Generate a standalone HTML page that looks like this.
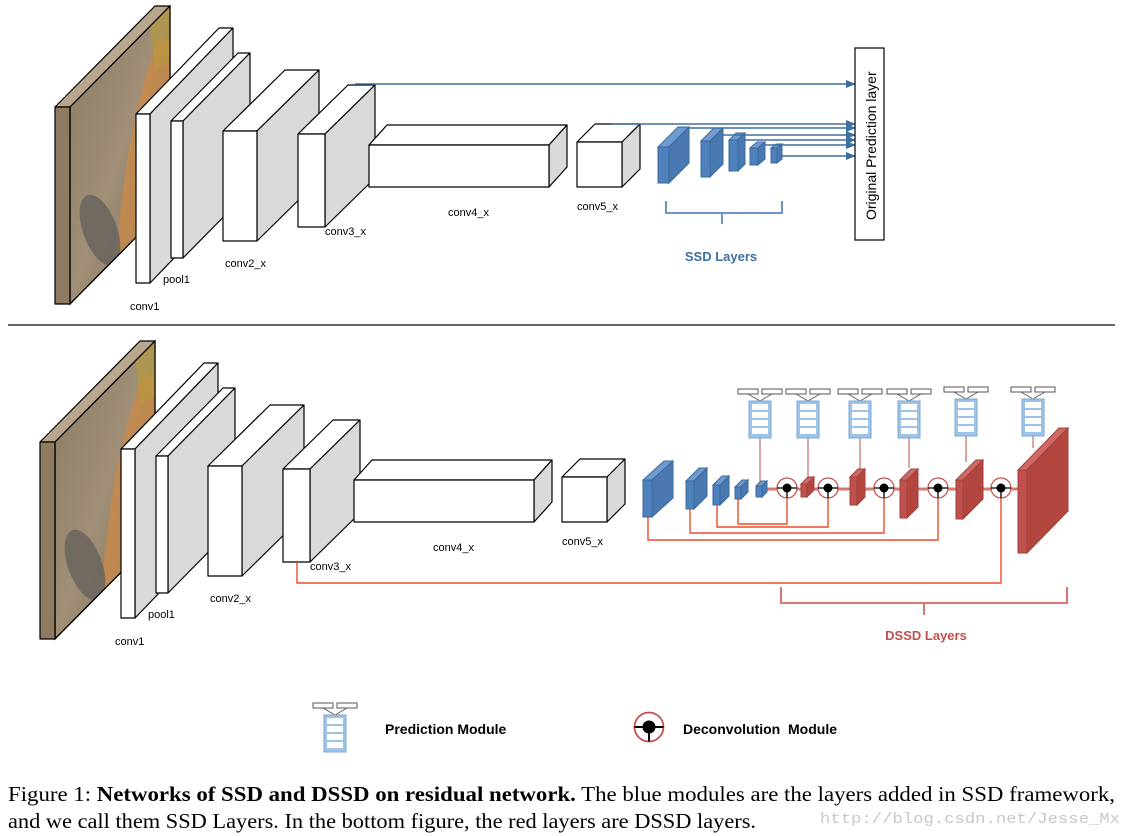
<!DOCTYPE html>
<html><head><meta charset="utf-8"><style>
html,body{margin:0;padding:0;background:#fff;}
svg{display:block;}
.lb{font-family:"Liberation Sans",sans-serif;font-size:11px;fill:#000;}
</style></head><body>
<svg width="1124" height="836" viewBox="0 0 1124 836" xmlns="http://www.w3.org/2000/svg">
<defs>
<linearGradient id="img" x1="0" y1="0" x2="1" y2="1">
<stop offset="0" stop-color="#8a7a62"/><stop offset="0.5" stop-color="#a08f76"/><stop offset="1" stop-color="#7d6d58"/>
</linearGradient>
<clipPath id="c1"><polygon points="70,107 170,6 170,203 70,304"/></clipPath>
<clipPath id="c2"><polygon points="55,442 155,341 155,538 55,639"/></clipPath>
<marker id="ab" markerWidth="10" markerHeight="8" refX="9" refY="4" orient="auto" markerUnits="userSpaceOnUse"><path d="M0,0 L10,4 L0,8 z" fill="#3e6fa3"/></marker>
<g id="pm">
<rect x="-22" y="0" width="20" height="5" fill="#fff" stroke="#555" stroke-width="1"/>
<rect x="2" y="0" width="20" height="5" fill="#fff" stroke="#555" stroke-width="1"/>
<path d="M-12,5 L0,12 L12,5" fill="none" stroke="#555" stroke-width="0.8"/>
<rect x="-11" y="12" width="22" height="37" fill="#9dc3e6" stroke="#7fa7d0"/>
<rect x="-8" y="15" width="16" height="6" fill="#fff"/>
<rect x="-8" y="23" width="16" height="6" fill="#fff"/>
<rect x="-8" y="31" width="16" height="6" fill="#fff"/>
<rect x="-8" y="39" width="16" height="6" fill="#fff"/>
</g>
<g id="dc">
<circle r="10" fill="#fff" stroke="#c0504d" stroke-width="1.2"/>
<line x1="-10" y1="0" x2="10" y2="0" stroke="#000" stroke-width="1.3"/>
<line x1="0" y1="0" x2="0" y2="10" stroke="#000" stroke-width="1.3"/>
<circle r="4.5" fill="#000"/>
</g>
</defs>

<!-- ===== TOP ===== -->
<g stroke="#000" stroke-width="1.2" stroke-linejoin="round">
<polygon points="70,107 170,6 170,203 70,304" fill="url(#img)"/>
<polygon points="55,107 70,107 170,6 155,6" fill="#b8a78c"/>
<rect x="55" y="107" width="15" height="197" fill="#8e7b61"/>
</g>
<g clip-path="url(#c1)">
<path d="M112,300 C118,230 125,160 135,120 C140,95 150,60 158,40 L175,40 L175,300 Z" fill="#c88a4a" opacity="0.8"/>
<ellipse cx="100" cy="230" rx="17" ry="37" fill="#6a645e" opacity="0.85" transform="rotate(-20 100 230)"/>
<polygon points="150,25 172,5 172,60 155,70" fill="#b79a3a" opacity="0.6"/>
</g>
<polygon points="70,107 170,6 170,203 70,304" fill="none" stroke="#000" stroke-width="1.2"/>
<g stroke="#000" stroke-width="1.2" stroke-linejoin="round">
<polygon points="136,114 150,114 233,28 219,28" fill="#fff"/>
<polygon points="150,114 233,28 233,197 150,283" fill="#d9d9d9"/>
<rect x="136" y="114" width="14" height="169" fill="#fff"/>
<polygon points="171,121 183,121 250,53 238,53" fill="#fff"/>
<polygon points="183,121 250,53 250,190 183,258" fill="#d9d9d9"/>
<rect x="171" y="121" width="12" height="137" fill="#fff"/>
<polygon points="223,131 257,131 319,70 285,70" fill="#fff"/>
<polygon points="257,131 319,70 319,180 257,241" fill="#d9d9d9"/>
<rect x="223" y="131" width="34" height="110" fill="#fff"/>
<polygon points="298,134 325,134 375,85 348,85" fill="#fff"/>
<polygon points="325,134 375,85 375,178 325,227" fill="#d9d9d9"/>
<rect x="298" y="134" width="27" height="93" fill="#fff"/>
<polygon points="369,145 549,145 567,125 387,125" fill="#fff"/>
<polygon points="549,145 567,125 567,167 549,187" fill="#d9d9d9"/>
<rect x="369" y="145" width="180" height="42" fill="#fff"/>
<polygon points="577,142 622,142 640,124 595,124" fill="#fff"/>
<polygon points="622,142 640,124 640,169 622,187" fill="#d9d9d9"/>
<rect x="577" y="142" width="45" height="45" fill="#fff"/>
</g>
<g class="lb">
<text x="130" y="310">conv1</text><text x="163" y="283">pool1</text><text x="225" y="267">conv2_x</text>
<text x="325" y="235">conv3_x</text><text x="448" y="216">conv4_x</text><text x="577" y="210">conv5_x</text>
</g>
<g stroke="#3a6a9c" stroke-width="1" fill="#4f81bd">
<polygon points="658,147 669,147 689,127 678,127" fill="#6f9bd1"/><polygon points="669,147 689,127 689,163 669,183" fill="#4a78b0"/><rect x="658" y="147" width="11" height="36"/>
<polygon points="701,141 710,141 723,128 714,128" fill="#6f9bd1"/><polygon points="710,141 723,128 723,164 710,177" fill="#4a78b0"/><rect x="701" y="141" width="9" height="36"/>
<polygon points="729,140 738,140 745,133 736,133" fill="#6f9bd1"/><polygon points="738,140 745,133 745,164 738,171" fill="#4a78b0"/><rect x="729" y="140" width="9" height="31"/>
<polygon points="750,148 758,148 765,142 757,142" fill="#6f9bd1"/><polygon points="758,148 765,142 765,159 758,165" fill="#4a78b0"/><rect x="750" y="148" width="8" height="17"/>
<polygon points="771,148 777,148 782,144 776,144" fill="#6f9bd1"/><polygon points="777,148 782,144 782,159 777,163" fill="#4a78b0"/><rect x="771" y="148" width="6" height="15"/>
</g>
<g stroke="#3e6fa3" stroke-width="1.5" fill="none" marker-end="url(#ab)">
<line x1="355" y1="84" x2="855" y2="84"/>
<line x1="612" y1="124" x2="855" y2="124"/>
<line x1="689" y1="128" x2="855" y2="128"/>
<line x1="723" y1="135" x2="855" y2="135"/>
<line x1="744" y1="140" x2="855" y2="140"/>
<line x1="765" y1="145" x2="855" y2="145"/>
<line x1="782" y1="156" x2="855" y2="156"/>
</g>
<rect x="855" y="48" width="29" height="192" fill="#fff" stroke="#000" stroke-width="1.2"/>
<text transform="translate(876,220) rotate(-90)" font-family="Liberation Sans,sans-serif" font-size="14" fill="#000">Original Prediction layer</text>
<path d="M666,201 V213 H782 V201 M722,213 V224" fill="none" stroke="#6a96c8" stroke-width="2"/>
<text x="721" y="261" text-anchor="middle" font-family="Liberation Sans,sans-serif" font-size="13" font-weight="bold" fill="#3e6fa3">SSD Layers</text>

<line x1="8" y1="325" x2="1115" y2="325" stroke="#333" stroke-width="1.5"/>

<!-- ===== BOTTOM ===== -->
<g stroke="#000" stroke-width="1.2" stroke-linejoin="round">
<polygon points="55,442 155,341 155,538 55,639" fill="url(#img)"/>
<polygon points="40,442 55,442 155,341 140,341" fill="#b8a78c"/>
<rect x="40" y="442" width="15" height="197" fill="#8e7b61"/>
</g>
<g clip-path="url(#c2)">
<path d="M97,635 C103,565 110,495 120,455 C125,430 135,395 143,375 L160,375 L160,635 Z" fill="#c88a4a" opacity="0.8"/>
<ellipse cx="85" cy="565" rx="17" ry="37" fill="#6a645e" opacity="0.85" transform="rotate(-20 85 565)"/>
<polygon points="135,360 157,340 157,395 140,405" fill="#b79a3a" opacity="0.6"/>
</g>
<polygon points="55,442 155,341 155,538 55,639" fill="none" stroke="#000" stroke-width="1.2"/>
<g stroke="#000" stroke-width="1.2" stroke-linejoin="round">
<polygon points="121,449 135,449 218,363 204,363" fill="#fff"/>
<polygon points="135,449 218,363 218,532 135,618" fill="#d9d9d9"/>
<rect x="121" y="449" width="14" height="169" fill="#fff"/>
<polygon points="156,456 168,456 235,388 223,388" fill="#fff"/>
<polygon points="168,456 235,388 235,525 168,593" fill="#d9d9d9"/>
<rect x="156" y="456" width="12" height="137" fill="#fff"/>
<polygon points="208,466 242,466 304,405 270,405" fill="#fff"/>
<polygon points="242,466 304,405 304,515 242,576" fill="#d9d9d9"/>
<rect x="208" y="466" width="34" height="110" fill="#fff"/>
<polygon points="283,469 310,469 360,420 333,420" fill="#fff"/>
<polygon points="310,469 360,420 360,513 310,562" fill="#d9d9d9"/>
<rect x="283" y="469" width="27" height="93" fill="#fff"/>
<polygon points="354,480 534,480 552,460 372,460" fill="#fff"/>
<polygon points="534,480 552,460 552,502 534,522" fill="#d9d9d9"/>
<rect x="354" y="480" width="180" height="42" fill="#fff"/>
<polygon points="562,477 607,477 625,459 580,459" fill="#fff"/>
<polygon points="607,477 625,459 625,504 607,522" fill="#d9d9d9"/>
<rect x="562" y="477" width="45" height="45" fill="#fff"/>
</g>
<g class="lb">
<text x="115" y="645">conv1</text><text x="148" y="618">pool1</text><text x="210" y="602">conv2_x</text>
<text x="310" y="570">conv3_x</text><text x="433" y="551">conv4_x</text><text x="562" y="545">conv5_x</text>
</g>

<g stroke="#c9776f" stroke-width="1.3">
<line x1="760" y1="438" x2="760" y2="486"/><line x1="808" y1="438" x2="808" y2="480"/>
<line x1="860" y1="438" x2="860" y2="475"/><line x1="909" y1="438" x2="909" y2="468"/>
<line x1="966" y1="436" x2="966" y2="462"/><line x1="1033" y1="436" x2="1033" y2="448"/>
</g>
<use href="#pm" x="760" y="389"/><use href="#pm" x="808" y="389"/><use href="#pm" x="860" y="389"/>
<use href="#pm" x="909" y="389"/><use href="#pm" x="966" y="387"/><use href="#pm" x="1033" y="387"/>

<g stroke="#ee4c2c" stroke-width="1.4" fill="none">
<path d="M738,499 V524 H787 V498"/>
<path d="M717,505 V527 H828 V498"/>
<path d="M690,509 V533 H884 V498"/>
<path d="M648,517 V540 H938 V498"/>
<path d="M297,562 V583 H1001 V498"/>
</g>
<line x1="762" y1="489" x2="1018" y2="489" stroke="#d9796f" stroke-width="3"/>

<g stroke="#3a6a9c" stroke-width="1" fill="#4f81bd">
<polygon points="643,480 652,480 673,461 664,461" fill="#6f9bd1"/><polygon points="652,480 673,461 673,498 652,517" fill="#4a78b0"/><rect x="643" y="480" width="9" height="37"/>
<polygon points="686,481 694,481 707,468 699,468" fill="#6f9bd1"/><polygon points="694,481 707,468 707,496 694,509" fill="#4a78b0"/><rect x="686" y="481" width="8" height="28"/>
<polygon points="713,485 720,485 729,476 722,476" fill="#6f9bd1"/><polygon points="720,485 729,476 729,496 720,505" fill="#4a78b0"/><rect x="713" y="485" width="7" height="20"/>
<polygon points="735,487 741,487 748,480 742,480" fill="#6f9bd1"/><polygon points="741,487 748,480 748,492 741,499" fill="#4a78b0"/><rect x="735" y="487" width="6" height="12"/>
<polygon points="756,486 762,486 767,481 761,481" fill="#6f9bd1"/><polygon points="762,486 767,481 767,492 762,497" fill="#4a78b0"/><rect x="756" y="486" width="6" height="11"/>
</g>
<g stroke="#a0403c" stroke-width="1" fill="#c0504d">
<polygon points="801,484 807,484 814,477 808,477" fill="#d06a66"/><polygon points="807,484 814,477 814,490 807,497" fill="#b3463f"/><rect x="801" y="484" width="6" height="13"/>
<polygon points="850,477 857,477 865,469 858,469" fill="#d06a66"/><polygon points="857,477 865,469 865,497 857,505" fill="#b3463f"/><rect x="850" y="477" width="7" height="28"/>
<polygon points="900,480 907,480 918,469 911,469" fill="#d06a66"/><polygon points="907,480 918,469 918,507 907,518" fill="#b3463f"/><rect x="900" y="480" width="7" height="38"/>
<polygon points="956,480 963,480 983,460 976,460" fill="#d06a66"/><polygon points="963,480 983,460 983,499 963,519" fill="#b3463f"/><rect x="956" y="480" width="7" height="39"/>
<polygon points="1018,470 1027,470 1068,428 1059,428" fill="#d06a66"/><polygon points="1027,470 1068,428 1068,511 1027,553" fill="#b3463f"/><rect x="1018" y="470" width="9" height="83"/>
</g>
<use href="#dc" x="787" y="488"/><use href="#dc" x="828" y="488"/><use href="#dc" x="884" y="488"/>
<use href="#dc" x="938" y="488"/><use href="#dc" x="1001" y="488"/>

<path d="M781,587 V603 H1067 V587 M924,603 V615" fill="none" stroke="#d9796f" stroke-width="2"/>
<text x="926" y="640" text-anchor="middle" font-family="Liberation Sans,sans-serif" font-size="13" font-weight="bold" fill="#c0504d">DSSD Layers</text>

<use href="#pm" x="335" y="703"/>
<text x="385" y="734" font-family="Liberation Sans,sans-serif" font-size="14" font-weight="bold">Prediction Module</text>
<g transform="translate(649,727) scale(1.45)"><use href="#dc"/></g>
<text x="683" y="734" font-family="Liberation Sans,sans-serif" font-size="14" font-weight="bold" xml:space="preserve">Deconvolution  Module</text>

<text x="8" y="801" textLength="1107" lengthAdjust="spacingAndGlyphs" font-family="Liberation Serif,serif" font-size="21">Figure 1: <tspan font-weight="bold">Networks of SSD and DSSD on residual network.</tspan> The blue modules are the layers added in SSD framework,</text>
<text x="8" y="828" textLength="748" lengthAdjust="spacingAndGlyphs" font-family="Liberation Serif,serif" font-size="21">and we call them SSD Layers. In the bottom figure, the red layers are DSSD layers.</text>
<text x="820" y="823" textLength="300" lengthAdjust="spacingAndGlyphs" font-family="Liberation Mono,monospace" font-size="15" fill="#c8c8c8">http://blog.csdn.net/Jesse_Mx</text>
</svg>
</body></html>
